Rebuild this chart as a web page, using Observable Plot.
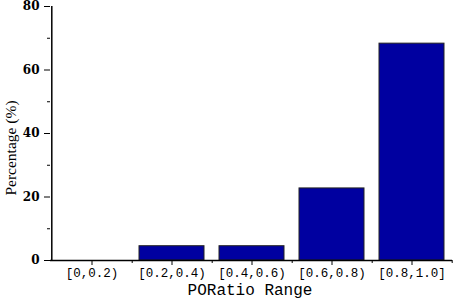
<!DOCTYPE html>
<html>
<head>
<meta charset="utf-8">
<script src="https://cdn.jsdelivr.net/npm/d3@7"></script>
<script src="https://cdn.jsdelivr.net/npm/@observablehq/plot@0.6"></script>
<style>
html,body{margin:0;padding:0;background:#fff;}
#chart{width:454px;height:300px;}
</style>
</head>
<body>
<div id="chart"></div>
<script>
const categories = ["[0,0.2)", "[0.2,0.4)", "[0.4,0.6)", "[0.6,0.8)", "[0.8,1.0]"];
const percentages = [0, 4.5, 4.5, 22.7, 68.3];
const majorTicks = [0, 20, 40, 60, 80];
const minorTicks = [10, 30, 50, 70];

const data = categories.map((c, i) => ({range: c, pct: percentages[i]}));
const step = (454 - 50 - 2) / categories.length;

const chart = Plot.plot({
  width: 454,
  height: 300,
  marginLeft: 50,
  marginRight: 2,
  marginTop: 6,
  marginBottom: 40,
  style: {background: "#fff", color: "#000"},
  x: {domain: categories, paddingInner: 0.19, paddingOuter: 0.095, label: null},
  y: {domain: [0, 80], label: null},
  marks: [
    Plot.barY(data, {x: "range", y: "pct", fill: "#0000a0", stroke: "#222", strokeWidth: 1}),
    // x axis line
    Plot.ruleY([0], {stroke: "#000", strokeWidth: 1.5}),
    // y axis line at left edge of the first band step
    Plot.ruleX([categories[0]], {x: d => d, dx: -step / 2, y1: 0, y2: 80, stroke: "#000", strokeWidth: 1.5}),
    Plot.axisY({ticks: majorTicks, tickSize: 6, tickPadding: 5, tickFormat: d => d,
      fontFamily: "DejaVu Serif", fontWeight: "bold", fontSize: 12, label: null, stroke: "#000"}),
    Plot.axisY({ticks: minorTicks, tickSize: 3, text: null, label: null, stroke: "#000"}),
    Plot.axisX({tickSize: 5, tickPadding: 3, fontFamily: "Liberation Mono", fontSize: 12.5, label: null, stroke: "#000"}),
    // minor x ticks at band boundaries
    Plot.ruleX(categories, {x: d => d, dx: step / 2, y1: 0, y2: 0, insetBottom: -3, stroke: "#000"})
  ]
});

const svg = d3.select(chart);
svg.append("text")
  .attr("transform", "translate(12,148) rotate(-90)")
  .attr("text-anchor", "middle")
  .attr("dominant-baseline", "middle")
  .attr("font-family", "Liberation Serif")
  .attr("font-size", 15.5)
  .text("Percentage (%)");
svg.append("text")
  .attr("x", 250)
  .attr("y", 295)
  .attr("text-anchor", "middle")
  .attr("font-family", "Liberation Mono")
  .attr("font-size", 16)
  .text("PORatio Range");

document.getElementById("chart").appendChild(chart);
</script>
</body>
</html>
